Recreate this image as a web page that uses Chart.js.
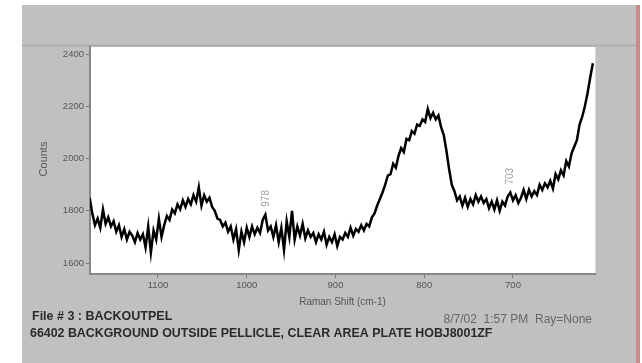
<!DOCTYPE html>
<html>
<head>
<meta charset="utf-8">
<script src="https://cdn.jsdelivr.net/npm/chart.js@4.4.1/dist/chart.umd.min.js"></script>
<style>
html,body{margin:0;padding:0;background:#fff;}
#c{display:block;}
</style>
</head>
<body>
<canvas id="c" width="642" height="363"></canvas>
<script>
// Raman shift (cm-1)
const shifts = [1177,1174,1171,1168,1165,1162,1159,1156,1153,1150,1147,1144,1141,1138,1135,1132,1129,1126,1123,1120,
1117,1114,1111,1108,1105,1102,1099,1096,1093,1090,1087,1084,1081,1078,1075,1072,1069,1066,1063,1060,
1057,1054,1051,1048,1045,1042,1039,1036,1033,1030,1027,1024,1021,1018,1015,1012,1009,1006,1003,1000,
997,994,991,988,985,982,979,976,973,970,967,964,961,958,955,952,949,946,943,940,
937,934,931,928,925,922,919,916,913,910,907,904,901,898,895,892,889,886,883,880,
877,874,871,868,865,862,859,856,853,850,847,844,841,838,835,832,829,826,823,820,
817,814,811,808,805,802,799,796,793,790,787,784,781,778,775,772,769,766,763,760,
757,754,751,748,745,742,739,736,733,730,727,724,721,718,715,712,709,706,703,700,
697,694,691,688,685,682,679,676,673,670,667,664,661,658,655,652,649,646,643,640,
637,634,631,628,625,622,619,616,613,610];
// Counts
const counts = [1850,1790,1745,1770,1735,1805,1750,1775,1740,1760,1720,1745,1700,1730,1690,1720,1705,1680,1715,1690,
1710,1660,1740,1640,1725,1690,1770,1700,1745,1780,1765,1805,1790,1825,1805,1840,1815,1845,1825,1860,
1835,1890,1820,1860,1835,1850,1815,1800,1770,1765,1740,1755,1720,1740,1690,1730,1650,1720,1680,1735,
1700,1740,1710,1735,1715,1765,1785,1725,1740,1700,1745,1680,1735,1650,1760,1700,1800,1690,1740,1705,
1750,1695,1725,1700,1715,1680,1710,1690,1720,1670,1700,1680,1710,1665,1700,1690,1715,1700,1735,1705,
1730,1720,1745,1725,1750,1740,1775,1790,1820,1845,1870,1900,1935,1940,1980,1965,2010,2040,2025,2075,
2070,2105,2095,2130,2125,2150,2140,2190,2155,2175,2150,2165,2120,2090,2030,1960,1900,1875,1840,1855,
1820,1850,1815,1845,1825,1860,1835,1855,1830,1845,1810,1835,1805,1840,1800,1835,1820,1855,1870,1840,
1860,1830,1850,1880,1845,1880,1855,1875,1860,1900,1880,1905,1890,1915,1885,1940,1920,1955,1935,1990,
1970,2020,2045,2070,2130,2160,2200,2250,2310,2365];

const xTicks = [1100,1000,900,800,700];
const yTicks = [1600,1800,2000,2200,2400];
const peakShifts = [978,703];
const peakLabels = ['978','703'];

const xMin = 607.6, xMax = 1176.6;
const yMin = 1558, yMax = 2427;

const points = shifts.map((s,i)=>({x:s,y:counts[i]}));
const FONT = '"Liberation Sans", Arial, sans-serif';

const bgPlugin = {
  id:'bg',
  beforeDraw(chart){
    const ctx = chart.ctx, a = chart.chartArea;
    ctx.save();
    ctx.fillStyle='#ffffff';
    ctx.fillRect(0,0,642,363);
    ctx.fillStyle='#c0c0c0';
    ctx.fillRect(22,5,614,358);
    ctx.fillStyle='#c48c8c';
    ctx.fillRect(636,5,4,358);
    ctx.strokeStyle='#a8a8a8';
    ctx.lineWidth=1.5;
    ctx.beginPath(); ctx.moveTo(22,45.5); ctx.lineTo(636,45.5); ctx.stroke();
    ctx.fillStyle='#ffffff';
    ctx.fillRect(a.left,a.top,a.right-a.left,a.bottom-a.top);
    ctx.strokeStyle='#d8d8d8';
    ctx.lineWidth=1;
    ctx.beginPath(); ctx.moveTo(a.right+0.5,a.top); ctx.lineTo(a.right+0.5,a.bottom); ctx.stroke();
    ctx.restore();
  },
  afterDraw(chart){
    const ctx = chart.ctx;
    const xs = chart.scales.x, ys = chart.scales.y;
    ctx.save();
    // axis titles
    ctx.fillStyle='#555';
    ctx.font='10px '+FONT;
    ctx.textAlign='center'; ctx.textBaseline='middle';
    ctx.fillText('Raman Shift (cm-1)',342.5,302);
    ctx.save();
    ctx.translate(44,159); ctx.rotate(-Math.PI/2);
    ctx.font='11px '+FONT;
    ctx.fillText('Counts',0,0);
    ctx.restore();
    // peak labels
    ctx.fillStyle='#a0a0a0';
    ctx.font='10px '+FONT;
    ctx.textAlign='left'; ctx.textBaseline='middle';
    peakShifts.forEach((p,i)=>{
      let best=0;
      shifts.forEach((s,j)=>{ if(Math.abs(s-p)<Math.abs(shifts[best]-p)) best=j; });
      const px = xs.getPixelForValue(p);
      const py = ys.getPixelForValue(counts[best]) - 8;
      ctx.save();
      ctx.translate(px,py); ctx.rotate(-Math.PI/2);
      ctx.fillText(peakLabels[i],0,0);
      ctx.restore();
    });
    // file info
    ctx.fillStyle='#2a2a2a';
    ctx.textAlign='left'; ctx.textBaseline='middle';
    ctx.font='bold 12.5px '+FONT;
    ctx.fillText('File # 3 : BACKOUTPEL',32,317);
    ctx.font='bold 12.4px '+FONT;
    ctx.fillText('66402 BACKGROUND OUTSIDE PELLICLE, CLEAR AREA PLATE HOBJ8001ZF',30,334);
    ctx.fillStyle='#666';
    ctx.font='12px '+FONT;
    ctx.textAlign='right';
    ctx.fillText('8/7/02  1:57 PM  Ray=None',592,320);
    ctx.restore();
  }
};

new Chart(document.getElementById('c'),{
  type:'line',
  data:{datasets:[{data:points,borderColor:'#000',borderWidth:2.5,pointRadius:0,tension:0,fill:false}]},
  options:{
    responsive:false,animation:false,
    layout:{padding:{left:0,top:47,right:47,bottom:59}},
    plugins:{legend:{display:false},tooltip:{enabled:false}},
    scales:{
      x:{type:'linear',reverse:true,min:xMin,max:xMax,
        afterBuildTicks(s){s.ticks=xTicks.map(v=>({value:v}));},
        afterFit(s){s.height=30;},
        grid:{drawOnChartArea:false,drawTicks:true,tickLength:4,color:'#777'},
        border:{display:true,color:'#888',width:2},
        ticks:{autoSkip:false,maxRotation:0,padding:2,color:'#555',font:{family:FONT,size:9.5},callback:v=>String(v)}
      },
      y:{type:'linear',min:yMin,max:yMax,
        afterBuildTicks(s){s.ticks=yTicks.map(v=>({value:v}));},
        afterFit(s){s.width=90;},
        grid:{drawOnChartArea:false,drawTicks:true,tickLength:4,color:'#777'},
        border:{display:true,color:'#888',width:2},
        ticks:{autoSkip:false,padding:2,color:'#555',font:{family:FONT,size:9.5},callback:v=>String(v)}
      }
    }
  },
  plugins:[bgPlugin]
});
</script>
</body>
</html>
